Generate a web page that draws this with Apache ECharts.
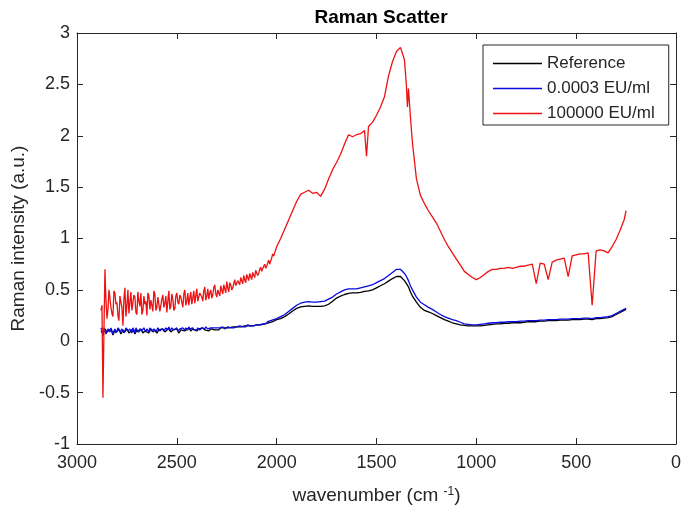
<!DOCTYPE html>
<html>
<head>
<meta charset="utf-8">
<script src="https://cdn.jsdelivr.net/npm/echarts@6/dist/echarts.min.js"></script>
<style>
html,body{margin:0;padding:0;background:#fff;}
#main{width:694px;height:510px;}
</style>
</head>
<body>
<div id="main"></div>
<script>
// wavenumber (cm-1)
var wavenumber = [
	2880,2870,2860,2850,2840,2830,2820,2810,2800,2790,
	2780,2770,2760,2750,2740,2730,2720,2710,2700,2690,
	2680,2670,2660,2650,2640,2630,2620,2610,2600,2590,
	2580,2570,2560,2550,2540,2530,2520,2510,2500,2490,
	2480,2470,2460,2450,2440,2430,2420,2410,2400,2390,
	2380,2370,2360,2350,2340,2330,2320,2310,2300,2290,
	2280,2270,2260,2250,2240,2230,2220,2210,2200,2190,
	2180,2170,2160,2150,2140,2130,2120,2110,2100,2090,
	2080,2070,2060,2050,2040,2030,2020,2010,2000,
	1980,1960,1940,1920,1900,1880,1860,1840,1820,1800,
	1780,1760,1740,1720,1700,1680,1660,1640,1620,1600,
	1580,1560,1550,1540,1520,1500,1480,1460,1440,1420,
	1400,1380,1360,1350,1345,1340,1330,1320,1300,1280,
	1260,1240,1220,1200,1180,1160,1140,1120,1100,1080,
	1060,1040,1020,1000,980,960,940,920,900,880,
	860,840,820,800,780,760,740,720,700,680,
	660,640,620,600,580,560,540,520,500,480,
	460,440,420,400,380,360,340,320,300,280,
	260,250
];
//Reference
var reference = [
	0.10,0.08,0.12,0.09,0.10,0.12,0.06,0.11,0.09,0.12,
	0.07,0.11,0.09,0.12,0.08,0.10,0.12,0.07,0.11,0.09,
	0.12,0.08,0.10,0.11,0.08,0.12,0.09,0.11,0.08,0.11,
	0.10,0.12,0.09,0.11,0.13,0.09,0.11,0.10,0.12,0.08,
	0.11,0.12,0.10,0.11,0.13,0.10,0.12,0.11,0.10,0.12,
	0.11,0.13,0.11,0.12,0.10,0.12,0.13,0.11,0.12,0.11,
	0.13,0.12,0.13,0.13,0.13,0.13,0.14,0.13,0.14,0.14,
	0.14,0.14,0.15,0.15,0.15,0.15,0.15,0.16,0.16,0.16,
	0.16,0.17,0.17,0.17,0.18,0.18,0.19,0.20,0.21,
	0.22,0.24,0.265,0.295,0.32,0.335,0.34,0.345,0.34,0.34,
	0.34,0.345,0.36,0.39,0.42,0.44,0.455,0.465,0.47,0.47,
	0.475,0.485,0.49,0.49,0.50,0.52,0.54,0.56,0.585,0.61,
	0.63,0.63,0.59,0.56,0.545,0.53,0.48,0.44,0.38,0.33,
	0.30,0.285,0.27,0.25,0.23,0.21,0.195,0.18,0.17,0.16,
	0.155,0.15,0.15,0.15,0.15,0.155,0.16,0.165,0.17,0.17,
	0.175,0.175,0.18,0.18,0.18,0.185,0.19,0.19,0.19,0.195,
	0.195,0.20,0.20,0.20,0.205,0.205,0.205,0.21,0.21,0.21,
	0.215,0.215,0.21,0.22,0.22,0.225,0.23,0.24,0.26,0.28,
	0.30,0.31
];
//0.0003 EU/ml
var lowDose = [
	0.13,0.05,0.14,0.08,0.11,0.13,0.07,0.12,0.10,0.14,
	0.08,0.12,0.10,0.14,0.09,0.11,0.13,0.08,0.12,0.10,
	0.13,0.09,0.11,0.12,0.09,0.13,0.10,0.12,0.09,0.12,
	0.11,0.13,0.10,0.12,0.14,0.10,0.12,0.11,0.13,0.10,
	0.12,0.13,0.11,0.12,0.14,0.11,0.13,0.12,0.11,0.13,
	0.12,0.14,0.12,0.13,0.11,0.13,0.14,0.12,0.13,0.12,
	0.13,0.14,0.12,0.13,0.14,0.13,0.14,0.13,0.14,0.14,
	0.15,0.14,0.15,0.15,0.16,0.15,0.16,0.16,0.16,0.17,
	0.17,0.17,0.18,0.18,0.19,0.20,0.20,0.21,0.22,
	0.24,0.26,0.29,0.32,0.35,0.37,0.38,0.385,0.38,0.38,
	0.385,0.39,0.41,0.43,0.46,0.48,0.50,0.51,0.51,0.51,
	0.52,0.53,0.535,0.54,0.55,0.57,0.59,0.61,0.64,0.67,
	0.70,0.70,0.66,0.63,0.61,0.59,0.54,0.50,0.43,0.38,
	0.355,0.33,0.31,0.285,0.26,0.24,0.225,0.21,0.20,0.185,
	0.17,0.165,0.16,0.16,0.165,0.17,0.175,0.18,0.18,0.185,
	0.185,0.19,0.19,0.19,0.195,0.195,0.20,0.20,0.20,0.205,
	0.205,0.21,0.21,0.21,0.215,0.215,0.215,0.22,0.22,0.22,
	0.225,0.225,0.22,0.23,0.23,0.235,0.24,0.25,0.27,0.29,
	0.31,0.32
];
//100000 EU/ml
var highDose = [
	0.30,-0.55,0.70,0.22,0.50,0.33,0.24,0.47,0.38,0.20,
	0.45,0.15,0.52,0.35,0.27,0.48,0.31,0.43,0.26,0.39,
	0.47,0.30,0.36,0.25,0.44,0.40,0.29,0.46,0.33,0.42,
	0.30,0.45,0.37,0.28,0.49,0.34,0.41,0.32,0.47,0.36,
	0.43,0.33,0.50,0.39,0.35,0.48,0.42,0.37,0.51,0.40,
	0.46,0.39,0.53,0.44,0.41,0.50,0.45,0.55,0.43,0.49,
	0.54,0.46,0.51,0.58,0.48,0.55,0.52,0.60,0.53,0.57,
	0.62,0.56,0.60,0.65,0.59,0.63,0.67,0.62,0.70,0.66,
	0.72,0.69,0.75,0.73,0.79,0.78,0.85,0.86,0.92,
	1.00,1.09,1.18,1.27,1.36,1.43,1.45,1.47,1.44,1.45,
	1.41,1.48,1.58,1.67,1.74,1.82,1.92,2.01,1.99,2.01,
	2.02,2.05,1.80,2.09,2.13,2.20,2.28,2.38,2.58,2.72,
	2.82,2.86,2.74,2.48,2.28,2.46,2.18,1.93,1.58,1.42,
	1.34,1.27,1.21,1.15,1.07,0.99,0.92,0.86,0.80,0.74,
	0.68,0.65,0.62,0.60,0.62,0.65,0.68,0.70,0.70,0.71,
	0.71,0.72,0.71,0.72,0.73,0.73,0.74,0.75,0.56,0.76,
	0.75,0.60,0.77,0.79,0.80,0.81,0.63,0.83,0.84,0.85,
	0.85,0.86,0.35,0.88,0.89,0.88,0.86,0.92,0.99,1.08,
	1.18,1.27
];

// extra in-between readings of the noisy low-wavenumber... high-wavenumber edge
var noiseWavenumber = [
	2875,2865,2855,2845,2835,2825,2815,2805,2795,2785,
	2775,2765,2755,2745,2735,2725,2715,2705,2695,2685,
	2675,2665,2655,2645,2635,2625,2615,2605,2595,2585,
	2575,2565,2555,2545,2535,2525,2515,2505,2495,2485,
	2475,2465,2455,2445,2435,2425,2415,2405,2395,2385,
	2375,2365,2355,2345,2335,2325,2315,2305,2295,2285,
	2275,2265,2255,2245,2235,2225,2215,2205,2195,2185,
	2175,2165,2155,2145,2135,2125,2115,2105,2095,2085,
	2075,2065,2055,2045,2035,2025,2015,2005
];
var lowDoseNoise = [
	0.10,0.13,0.07,0.12,0.09,0.14,0.10,0.08,0.13,0.09,
	0.12,0.08,0.13,0.10,0.12,0.08,0.11,0.13,0.09,0.12,
	0.10,0.13,0.09,0.11,0.13,0.10,0.12,0.09,0.13,0.10,
	0.12,0.10,0.13,0.11,0.10,0.13,0.11,0.12,0.10,0.12,
	0.11,0.12,0.13,0.11,0.12,0.13,0.11,0.12,0.13,0.11,
	0.13,0.12,0.14,0.12,0.13,0.12,0.13,0.12,0.14,0.13,
	0.12,0.13,0.13,0.14,0.13,0.14,0.13,0.14,0.13,0.15,
	0.14,0.15,0.14,0.16,0.15,0.16,0.15,0.16,0.17,0.16,
	0.17,0.18,0.17,0.19,0.19,0.20,0.21,0.21
];
var highDoseNoise = [
	0.35,0.10,0.40,0.31,0.42,0.27,0.49,0.36,0.25,0.44,
	0.33,0.41,0.24,0.50,0.38,0.30,0.45,0.28,0.48,0.34,
	0.26,0.44,0.39,0.47,0.31,0.35,0.49,0.30,0.43,0.29,
	0.41,0.33,0.44,0.39,0.31,0.46,0.30,0.44,0.38,0.45,
	0.38,0.46,0.35,0.47,0.42,0.36,0.49,0.44,0.39,0.47,
	0.43,0.49,0.40,0.51,0.47,0.42,0.52,0.46,0.50,0.44,
	0.50,0.55,0.47,0.52,0.57,0.50,0.56,0.54,0.59,0.55,
	0.59,0.64,0.57,0.62,0.66,0.60,0.64,0.69,0.64,0.70,
	0.68,0.73,0.71,0.76,0.75,0.81,0.83,0.89
];

var seriesNames = ['Reference', '0.0003 EU/ml', '100000 EU/ml'];
var seriesColors = ['#000000', '#0a0ae0', '#ee1111'];

var txt = '#262626';
var font = 'Liberation Sans, Arial, Helvetica, sans-serif';

function pairs(ys, extraYs){
	var out = [];
	for (var i = 0; i < wavenumber.length; i++) {
		out.push([wavenumber[i], ys[i]]);
	}
	if (extraYs) {
		for (var j = 0; j < noiseWavenumber.length; j++) {
			out.push([noiseWavenumber[j], extraYs[j]]);
		}
		out.sort(function(a, b){ return b[0] - a[0]; });
	}
	return out;
}

function boxAxis(pos, isX){
	var a = {
		type : 'value',
		position : pos,
		min : isX ? 0 : -1,
		max : isX ? 3000 : 3,
		interval : isX ? 500 : 0.5,
		inverse : isX,
		axisLine : {show : true, onZero : false, lineStyle : {color : txt, width : 1}},
		axisTick : {show : true, inside : true, length : 6, lineStyle : {color : txt}},
		axisLabel : {show : false},
		splitLine : {show : false}
	};
	return a;
}

var xBottom = boxAxis('bottom', true);
xBottom.axisLabel = {show : true, margin : 10, fontSize : 18, color : txt, fontFamily : font,
	formatter : function(v){ return String(v); }};
xBottom.name = '{t|wavenumber (cm }{s|-1}{t|)}';
xBottom.nameLocation = 'middle';
xBottom.nameGap = 42;
xBottom.nameTextStyle = {
	color : txt, fontFamily : font, fontSize : 19,
	rich : {
		t : {fontSize : 19, color : txt, fontFamily : font},
		s : {fontSize : 12, color : txt, fontFamily : font, verticalAlign : 'top'}
	}
};
var xTop = boxAxis('top', true);

var yLeft = boxAxis('left', false);
yLeft.axisLabel = {show : true, margin : 7, fontSize : 18, color : txt, fontFamily : font};
yLeft.name = 'Raman intensity (a.u.)';
yLeft.nameLocation = 'middle';
yLeft.nameGap = 46;
yLeft.nameTextStyle = {color : txt, fontFamily : font, fontSize : 19};
var yRight = boxAxis('right', false);

var chart = echarts.init(document.getElementById('main'), null, {renderer : 'canvas'});
var series = [];
var allData = [pairs(reference), pairs(lowDose, lowDoseNoise), pairs(highDose, highDoseNoise)];
for (var k = 0; k < allData.length; k++) {
	series.push({
		name : seriesNames[k],
		type : 'line',
		xAxisIndex : 0,
		yAxisIndex : 0,
		symbol : 'none',
		smooth : false,
		color : seriesColors[k],
		lineStyle : {width : 1.3, color : seriesColors[k]},
		data : allData[k]
	});
}

option = {
	animation : false,
	backgroundColor : '#fff',
	title : {
		text : 'Raman Scatter',
		left : 376,
		textAlign : 'center',
		top : 3,
		textStyle : {fontSize : 19, fontWeight : 'bold', color : '#000', fontFamily : font}
	},
	legend : {
		orient : 'vertical',
		left : 483,
		top : 45,
		padding : [10, 14, 3, 10],
		itemGap : 8,
		itemWidth : 49,
		itemHeight : 1.5,
		icon : 'rect',
		selectedMode : false,
		borderColor : txt,
		borderWidth : 1,
		backgroundColor : '#fff',
		textStyle : {fontSize : 17, color : txt, fontFamily : font},
		data : seriesNames
	},
	grid : {left : 77, right : 18, top : 33, bottom : 65, containLabel : false},
	xAxis : [xBottom, xTop],
	yAxis : [yLeft, yRight],
	series : series
};
chart.setOption(option);
</script>
</body>
</html>
